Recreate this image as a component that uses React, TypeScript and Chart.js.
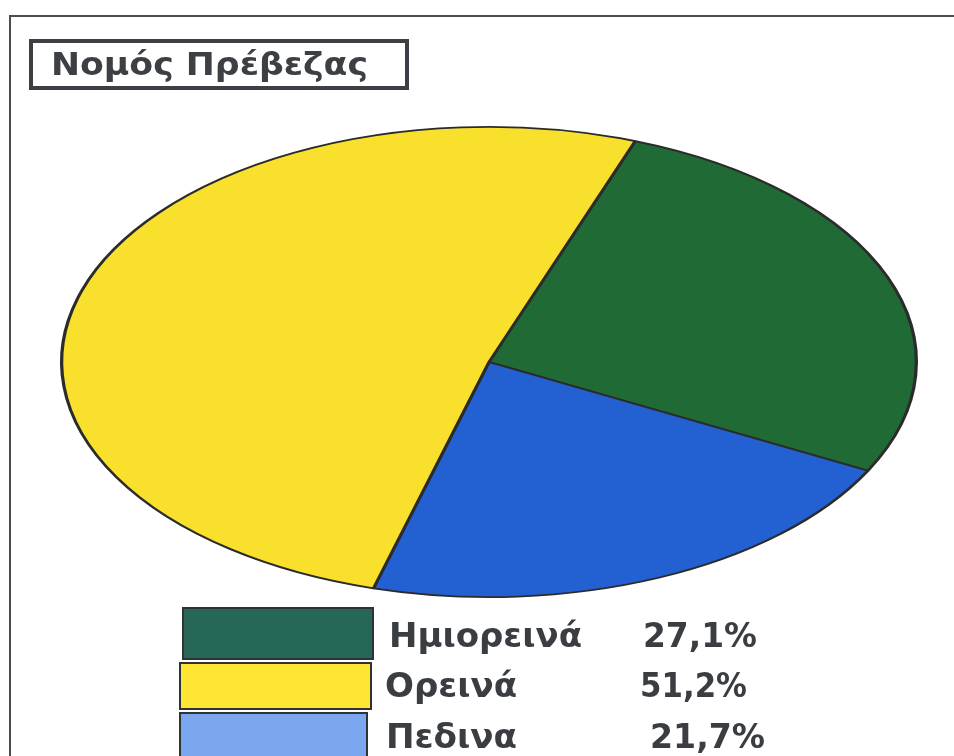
import React, { useEffect, useRef } from "react";
import { Chart, registerables } from "chart.js";

Chart.register(...registerables);

const titleText = "Νομός Πρέβεζας";
const categories = ["Ημιορεινά", "Ορεινά", "Πεδινα"];
const values = [27.1, 51.2, 21.7];
const valueLabels = ["27,1%", "51,2%", "21,7%"];
const sliceColors = ["#1f6a35", "#f8e02c", "#2360d2"];
const legendColors = ["#276757", "#ffe633", "#7aa7ee"];
// clockwise drawing order of slices in the pie (green, blue, yellow)
const pieOrder = [0, 2, 1];

const SX = 429 / 236;

const ellipsePlugin = {
  id: "ellipse",
  beforeDatasetsDraw(chart: any) {
    const arc = chart.getDatasetMeta(0).data[0];
    if (!arc) return;
    const ctx = chart.ctx;
    ctx.save();
    ctx.translate(arc.x, arc.y);
    ctx.scale(SX, 1);
    ctx.translate(-arc.x, -arc.y);
  },
  afterDatasetsDraw(chart: any) {
    chart.ctx.restore();
  },
};

function fitText(ctx: CanvasRenderingContext2D, text: string, x: number, y: number, w: number, font: string) {
  ctx.save();
  ctx.font = font;
  const m = ctx.measureText(text).width;
  ctx.translate(x, y);
  ctx.scale(w / m, 1);
  ctx.fillText(text, 0, 0);
  ctx.restore();
}

const decorPlugin = {
  id: "decor",
  afterDraw(chart: any) {
    const ctx: CanvasRenderingContext2D = chart.ctx;
    ctx.save();
    // outer frame
    ctx.strokeStyle = "#4a4d52";
    ctx.lineWidth = 2;
    ctx.beginPath();
    ctx.moveTo(10, 760);
    ctx.lineTo(10, 16);
    ctx.lineTo(960, 16);
    ctx.stroke();
    // title box
    ctx.lineWidth = 4;
    ctx.strokeStyle = "#3c4045";
    ctx.strokeRect(31, 41, 376, 47);
    ctx.fillStyle = "#3c4045";
    ctx.textBaseline = "alphabetic";
    fitText(ctx, titleText, 51, 75, 317, "bold 31px 'DejaVu Sans'");
    // legend
    const boxes = [
      [183, 608, 190, 51],
      [180, 663, 191, 46],
      [180, 713, 187, 50],
    ];
    const labelPos = [
      [389, 647, 193],
      [385, 697, 132],
      [386, 748, 131],
    ];
    const valPos = [
      [643, 647, 114],
      [640, 697, 107],
      [650, 748, 115],
    ];
    categories.forEach((c, i) => {
      const [bx, by, bw, bh] = boxes[i];
      ctx.fillStyle = legendColors[i];
      ctx.fillRect(bx, by, bw, bh);
      ctx.lineWidth = 2;
      ctx.strokeStyle = "#2f3236";
      ctx.strokeRect(bx, by, bw, bh);
      ctx.fillStyle = "#3a3d42";
      fitText(ctx, c, labelPos[i][0], labelPos[i][1], labelPos[i][2], "bold 33px 'DejaVu Sans'");
      fitText(ctx, valueLabels[i], valPos[i][0], valPos[i][1], valPos[i][2], "bold 33px 'DejaVu Sans'");
    });
    ctx.restore();
  },
};

export default function App() {
  const ref = useRef<HTMLCanvasElement | null>(null);
  useEffect(() => {
    if (!ref.current) return;
    const chart = new Chart(ref.current, {
      type: "pie",
      data: {
        labels: pieOrder.map((i) => categories[i]),
        datasets: [
          {
            data: pieOrder.map((i) => values[i]),
            backgroundColor: pieOrder.map((i) => sliceColors[i]),
            borderColor: "#2b2b2b",
            borderWidth: 1.8,
          },
        ],
      },
      options: {
        responsive: false,
        animation: false,
        devicePixelRatio: 1,
        rotation: 20,
        layout: { padding: { left: 253, right: 229, top: 126, bottom: 158 } },
        plugins: {
          legend: { display: false },
          tooltip: { enabled: false },
          title: { display: false },
        },
      },
      plugins: [ellipsePlugin, decorPlugin],
    });
    return () => chart.destroy();
  }, []);
  return (
    <div style={{ position: "absolute", left: 0, top: 0, width: 954, height: 756, background: "#fff", overflow: "hidden" }}>
      <canvas ref={ref} width={954} height={756} style={{ display: "block" }} />
    </div>
  );
}
